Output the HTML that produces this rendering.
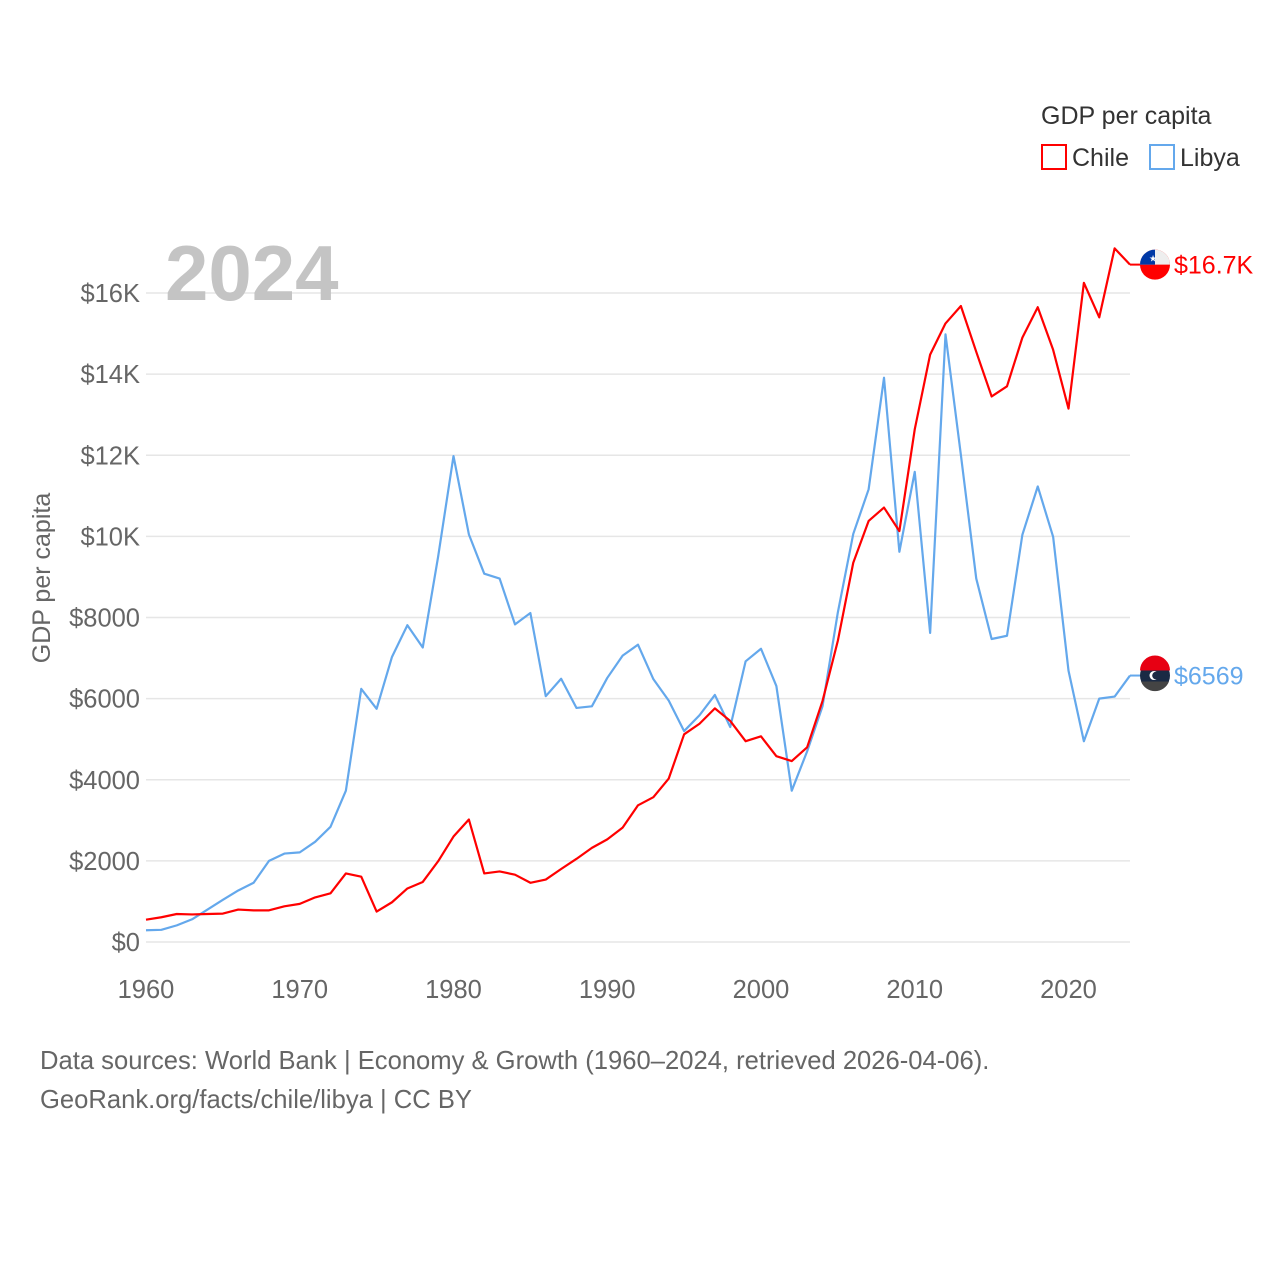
<!DOCTYPE html>
<html><head><meta charset="utf-8"><style>
body{margin:0;background:#fff;font-family:"Liberation Sans",sans-serif}
svg text{font-family:"Liberation Sans",sans-serif}
</style></head><body>
<svg id="chart" width="1280" height="1280" viewBox="0 0 1280 1280" xmlns="http://www.w3.org/2000/svg">
<rect width="1280" height="1280" fill="#fff"/>
<g id="grid"></g><g id="xt"></g>
<text x="165" y="300" font-size="78" font-weight="bold" fill="#c4c4c4">2024</text>
<text transform="translate(50,578) rotate(-90)" text-anchor="middle" font-size="25" fill="#666">GDP per capita</text>
<g id="series"></g>
<g>
<text x="1041" y="124" font-size="25" fill="#333">GDP per capita</text>
<g><rect x="1042" y="145" width="24" height="24" fill="none" stroke="#f00" stroke-width="2"/><text x="1072" y="166" font-size="25" fill="#333">Chile</text></g>
<g><rect x="1150" y="145" width="24" height="24" fill="none" stroke="#64a8ec" stroke-width="2"/><text x="1180" y="166" font-size="25" fill="#333">Libya</text></g>
</g>
<text x="40" y="1069" font-size="25.6" fill="#666">Data sources: World Bank | Economy &amp; Growth (1960–2024, retrieved 2026-04-06).</text>
<text x="40" y="1108" font-size="25.6" fill="#666">GeoRank.org/facts/chile/libya | CC BY</text>
</svg>
<script>
const years=[];for(let y=1960;y<=2024;y++)years.push(y);
const chile=[550,610,690,680,690,700,800,780,780,880,940,1100,1200,1690,1610,750,980,1320,1480,1990,2600,3020,1690,1740,1660,1460,1540,1800,2050,2320,2530,2820,3370,3570,4030,5120,5380,5760,5450,4950,5070,4580,4460,4800,5940,7430,9350,10380,10710,10130,12640,14480,15250,15680,14550,13450,13700,14900,15650,14600,13150,16250,15400,17100,16700];
const libya=[290,300,410,560,800,1040,1270,1460,2000,2180,2210,2470,2840,3730,6240,5750,7030,7810,7260,9500,11980,10050,9080,8960,7830,8110,6060,6490,5770,5810,6510,7060,7330,6480,5950,5200,5590,6090,5300,6920,7230,6310,3730,4700,5810,8130,10060,11160,13910,9620,11590,7620,14980,12010,8960,7470,7550,10040,11230,9990,6690,4950,6000,6050,6569];
const yTicks=[0,2000,4000,6000,8000,10000,12000,14000,16000];
const yTickLabels=["$0","$2000","$4000","$6000","$8000","$10K","$12K","$14K","$16K"];
const xTicks=[1960,1970,1980,1990,2000,2010,2020];
const endLabels=["$16.7K","$6569"];
const NS="http://www.w3.org/2000/svg";
const X=y=>146+(y-1960)*(1130-146)/64;
const Y=v=>942-v*(942-293)/16000;
function mk(t,a,p){const e=document.createElementNS(NS,t);for(const k in a)e.setAttribute(k,a[k]);p.appendChild(e);return e;}
const grid=document.getElementById('grid');
yTicks.forEach((v,i)=>{
 const l=mk('line',{x1:146,x2:1130,y1:Y(v),y2:Y(v),stroke:'#e6e6e6','stroke-width':1.5},grid);
 
 
 const t=mk('text',{x:140,y:Y(v)+9,'text-anchor':'end','font-size':25.5,fill:'#666'},grid);
 t.textContent=yTickLabels[i];
 
 
});
const xt=document.getElementById('xt');
xTicks.forEach(y=>{
 const t=mk('text',{x:X(y),y:998,'text-anchor':'middle','font-size':25.5,fill:'#666'},xt);
 t.textContent=y;
 
 
});
const s=document.getElementById('series');
function line(data,col,name){
 const p=mk('polyline',{points:data.map((v,i)=>X(years[i])+','+Y(v)).join(' '),fill:'none',stroke:col,'stroke-width':2.2,'stroke-linejoin':'round'},s);
 
 
}
line(libya,'#64a8ec','libya-line');
line(chile,'#f00','chile-line');
const cy=Y(chile[64]),ly=Y(libya[64]);
mk('line',{x1:1130,x2:1142,y1:cy,y2:cy,stroke:'#f00','stroke-width':2},s);
mk('line',{x1:1130,x2:1142,y1:ly,y2:ly,stroke:'#64a8ec','stroke-width':2},s);
const cf=mk('g',{},s);


mk('circle',{cx:1155,cy:cy,r:15,fill:'#f00'},cf);
mk('path',{d:`M1140 ${cy} A15 15 0 0 1 1170 ${cy} Z`,fill:'#eee'},cf);
mk('path',{d:`M1140 ${cy} A15 15 0 0 1 1155 ${cy-15} L1155 ${cy} Z`,fill:'#0039a6'},cf);
mk('text',{x:1149,y:cy-3,'font-size':9,fill:'#fff'},cf).textContent='★';
const lf=mk('g',{},s);


mk('circle',{cx:1155,cy:ly,r:15,fill:'#1a2a44'},lf);
mk('path',{d:`M1140 ${ly-5} A15 15 0 0 1 1170 ${ly-5} Z`,fill:'#e70013'},lf);
mk('path',{d:`M1141 ${ly+6} L1169 ${ly+6} A15 15 0 0 1 1141 ${ly+6} Z`,fill:'#444'},lf);
mk('circle',{cx:1154,cy:ly,r:4.5,fill:'#fff'},lf);
mk('circle',{cx:1156,cy:ly,r:3.8,fill:'#1a2a44'},lf);
const t1=mk('text',{x:1174,y:cy+9,'font-size':25,fill:'#f00'},s);t1.textContent=endLabels[0];


const t2=mk('text',{x:1174,y:ly+9,'font-size':25,fill:'#64a8ec'},s);t2.textContent=endLabels[1];


</script>
</body></html>
